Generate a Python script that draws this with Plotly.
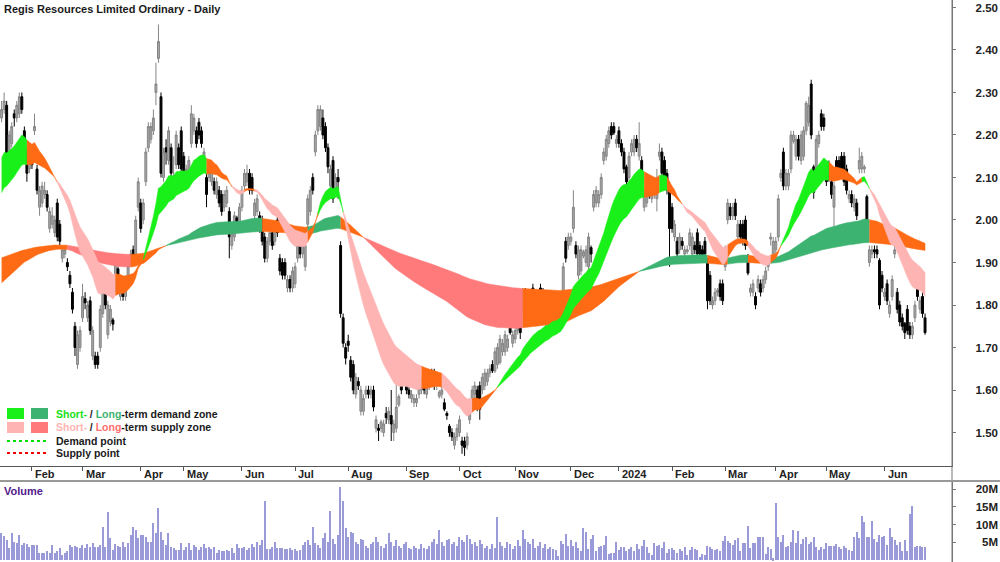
import pandas as pd
import plotly.graph_objects as go

W, H = 1000, 562
FONT = "Liberation Sans Narrow, Arial Narrow, Liberation Sans, Arial, sans-serif"

start_date = "2023-01-13"
asx_holidays = ["2023-01-26", "2023-04-07", "2023-04-10", "2023-04-25", "2023-06-12",
                "2023-12-25", "2023-12-26", "2024-01-01", "2024-01-26", "2024-03-29",
                "2024-04-01", "2024-04-25", "2024-06-10"]

opens = [
    2.24, 2.26, 2.27, 2.15, 2.18, 2.25, 2.24, 2.25, 2.29, 2.21,
    2.16, 2.12, 2.15, 2.21, 2.12, 2.03, 2.04, 2.06, 2.06, 1.98,
    1.99, 1.97, 2.04, 1.99, 1.91, 1.92, 1.90, 1.87, 1.83, 1.75,
    1.66, 1.70, 1.77, 1.815, 1.77, 1.81, 1.68, 1.68, 1.68, 1.70,
    1.78, 1.86, 1.73, 1.76, 1.765, 1.84, 1.885, 1.82, 1.84, 1.82,
    1.86, 1.90, 1.93, 1.92, 2.03, 2.04, 2.00, 2.09, 2.17, 2.19,
    2.21, 2.30, 2.38, 2.29, 2.10, 2.17, 2.14, 2.17, 2.09, 2.13,
    2.17, 2.21, 2.15, 2.08, 2.10, 2.18, 2.21, 2.21, 2.23, 2.21,
    2.13, 2.10, 2.10, 2.09, 2.09, 2.06, 2.07, 2.06, 2.03, 2.04,
    2.02, 1.94, 1.96, 2.005, 1.99, 2.03, 2.08, 2.09, 2.11, 2.10,
    2.01, 2.02, 2.01, 2.00, 1.96, 1.91, 1.95, 1.97, 1.95, 2.00,
    1.91, 1.90, 1.90, 1.84, 1.86, 1.84, 1.85, 1.91, 1.95, 1.92,
    1.89, 1.99, 2.02, 2.10, 2.16, 2.21, 2.22, 2.24, 2.22, 2.17,
    2.08, 2.14, 2.07, 2.10, 1.94, 1.77, 1.70, 1.715, 1.67, 1.66,
    1.59, 1.62, 1.55, 1.55, 1.59, 1.60, 1.59, 1.60, 1.51, 1.51,
    1.51, 1.50, 1.545, 1.53, 1.54, 1.50, 1.51, 1.565, 1.61, 1.64,
    1.63, 1.60, 1.58, 1.57, 1.57, 1.59, 1.60, 1.61, 1.59, 1.61,
    1.64, 1.64, 1.61, 1.585, 1.59, 1.57, 1.545, 1.515, 1.50, 1.47,
    1.49, 1.50, 1.48, 1.48, 1.47, 1.53, 1.56, 1.59, 1.60, 1.61,
    1.60, 1.61, 1.62, 1.64, 1.66, 1.645, 1.66, 1.665, 1.69, 1.69,
    1.70, 1.755, 1.71, 1.72, 1.74, 1.755, 1.79, 1.83, 1.82, 1.77,
    1.84, 1.76, 1.76, 1.84, 1.83, 1.76, 1.78, 1.77, 1.80, 1.80,
    1.78, 1.79, 1.805, 1.95, 1.94, 1.95, 1.98, 1.94, 1.87, 1.88,
    1.915, 1.90, 1.89, 1.935, 2.03, 2.04, 2.04, 2.06, 2.14, 2.15,
    2.18, 2.22, 2.22, 2.18, 2.21, 2.18, 2.16, 2.125, 2.10, 2.16,
    2.16, 2.19, 2.15, 2.14, 2.03, 2.04, 2.08, 2.05, 2.06, 2.05,
    2.15, 2.16, 2.14, 2.11, 2.08, 2.03, 1.96, 1.95, 1.93, 1.95,
    1.92, 1.925, 1.94, 1.92, 1.94, 1.97, 1.94, 1.93, 1.95, 1.90,
    1.87, 1.80, 1.81, 1.83, 1.85, 1.85, 1.89, 2.00, 2.03, 2.01,
    2.04, 1.96, 1.99, 1.99, 2.00, 1.91, 1.83, 1.83, 1.82, 1.84,
    1.85, 1.84, 1.86, 1.89, 1.955, 1.92, 1.93, 1.96, 2.10, 2.16,
    2.08, 2.08, 2.12, 2.185, 2.15, 2.19, 2.14, 2.15, 2.21, 2.23,
    2.32, 2.125, 2.12, 2.18, 2.25, 2.24, 2.12, 2.13, 2.09, 2.03,
    2.14, 2.14, 2.15, 2.15, 2.12, 2.05, 2.06, 2.03, 2.04, 2.12,
    2.12, 2.12, 2.055, 1.90, 1.92, 1.93, 1.93, 1.905, 1.87, 1.82,
    1.85, 1.78, 1.82, 1.92, 1.83, 1.80, 1.77, 1.757, 1.79, 1.75,
    1.73, 1.77, 1.845, 1.79, 1.82, 1.77,
]

highs = [
    2.28, 2.30, 2.28, 2.21, 2.23, 2.26, 2.28, 2.30, 2.30, 2.22,
    2.17, 2.16, 2.17, 2.25, 2.13, 2.08, 2.09, 2.09, 2.07, 2.03,
    2.03, 2.01, 2.05, 2.00, 1.94, 1.94, 1.91, 1.88, 1.84, 1.76,
    1.74, 1.75, 1.85, 1.83, 1.81, 1.82, 1.75, 1.69, 1.69, 1.80,
    1.86, 1.87, 1.81, 1.80, 1.77, 1.92, 1.89, 1.87, 1.85, 1.87,
    1.90, 1.93, 1.94, 2.01, 2.10, 2.05, 2.05, 2.17, 2.23, 2.23,
    2.26, 2.37, 2.46, 2.30, 2.17, 2.19, 2.22, 2.18, 2.15, 2.21,
    2.18, 2.22, 2.16, 2.13, 2.15, 2.27, 2.25, 2.22, 2.24, 2.22,
    2.17, 2.11, 2.14, 2.13, 2.10, 2.10, 2.08, 2.07, 2.07, 2.08,
    2.03, 1.98, 2.02, 2.01, 2.04, 2.08, 2.12, 2.13, 2.12, 2.11,
    2.05, 2.06, 2.02, 2.01, 1.97, 1.96, 1.98, 1.98, 1.99, 2.01,
    1.92, 1.91, 1.91, 1.87, 1.87, 1.89, 1.90, 1.96, 1.96, 1.95,
    1.95, 2.06, 2.08, 2.11, 2.21, 2.27, 2.27, 2.26, 2.23, 2.18,
    2.13, 2.15, 2.11, 2.12, 1.95, 1.78, 1.71, 1.73, 1.68, 1.67,
    1.64, 1.63, 1.61, 1.59, 1.61, 1.61, 1.61, 1.61, 1.54, 1.52,
    1.53, 1.53, 1.56, 1.56, 1.60, 1.53, 1.62, 1.59, 1.62, 1.65,
    1.64, 1.61, 1.60, 1.59, 1.59, 1.62, 1.63, 1.62, 1.62, 1.63,
    1.65, 1.65, 1.64, 1.60, 1.61, 1.58, 1.55, 1.52, 1.51, 1.50,
    1.52, 1.54, 1.49, 1.49, 1.50, 1.58, 1.61, 1.62, 1.61, 1.62,
    1.64, 1.65, 1.65, 1.66, 1.67, 1.70, 1.71, 1.73, 1.72, 1.74,
    1.73, 1.76, 1.74, 1.75, 1.77, 1.76, 1.84, 1.84, 1.83, 1.82,
    1.85, 1.79, 1.80, 1.85, 1.84, 1.81, 1.79, 1.81, 1.83, 1.81,
    1.81, 1.82, 1.90, 1.96, 1.97, 1.97, 2.07, 1.95, 1.94, 1.94,
    1.93, 1.94, 1.97, 1.94, 2.07, 2.08, 2.07, 2.11, 2.17, 2.20,
    2.22, 2.23, 2.23, 2.20, 2.22, 2.19, 2.17, 2.13, 2.16, 2.19,
    2.20, 2.20, 2.23, 2.15, 2.07, 2.09, 2.09, 2.09, 2.09, 2.12,
    2.18, 2.17, 2.15, 2.12, 2.09, 2.04, 2.00, 1.96, 1.97, 1.96,
    1.94, 1.94, 1.98, 1.97, 1.95, 1.98, 1.95, 1.94, 1.96, 1.91,
    1.88, 1.82, 1.84, 1.84, 1.86, 1.86, 1.94, 2.05, 2.04, 2.04,
    2.05, 2.00, 2.00, 2.00, 2.01, 1.92, 1.85, 1.86, 1.83, 1.87,
    1.86, 1.87, 1.89, 1.91, 1.97, 1.96, 1.96, 2.06, 2.12, 2.17,
    2.12, 2.12, 2.21, 2.21, 2.20, 2.20, 2.21, 2.22, 2.28, 2.29,
    2.33, 2.13, 2.20, 2.21, 2.26, 2.25, 2.13, 2.14, 2.10, 2.09,
    2.15, 2.15, 2.16, 2.16, 2.13, 2.07, 2.07, 2.06, 2.05, 2.17,
    2.16, 2.13, 2.06, 1.94, 1.94, 1.94, 1.94, 1.91, 1.88, 1.84,
    1.86, 1.81, 1.87, 1.94, 1.84, 1.81, 1.78, 1.76, 1.80, 1.76,
    1.76, 1.81, 1.85, 1.82, 1.83, 1.78,
]

lows = [
    2.23, 2.25, 2.13, 2.14, 2.17, 2.22, 2.23, 2.24, 2.25, 2.15,
    2.09, 2.11, 2.12, 2.20, 2.06, 2.01, 2.03, 2.05, 2.02, 1.97,
    1.98, 1.96, 1.95, 1.94, 1.90, 1.91, 1.88, 1.84, 1.78, 1.68,
    1.65, 1.69, 1.76, 1.79, 1.76, 1.73, 1.67, 1.65, 1.65, 1.69,
    1.77, 1.79, 1.72, 1.75, 1.74, 1.83, 1.83, 1.81, 1.81, 1.81,
    1.85, 1.89, 1.90, 1.91, 2.02, 1.97, 1.99, 2.08, 2.16, 2.18,
    2.20, 2.27, 2.37, 2.10, 2.09, 2.13, 2.13, 2.10, 2.08, 2.12,
    2.12, 2.11, 2.10, 2.07, 2.09, 2.17, 2.20, 2.17, 2.19, 2.17,
    2.12, 2.03, 2.09, 2.08, 2.06, 2.05, 2.03, 2.01, 2.02, 2.03,
    1.91, 1.93, 1.95, 1.98, 1.98, 2.02, 2.07, 2.08, 2.06, 2.06,
    2.00, 2.01, 1.97, 1.94, 1.90, 1.90, 1.94, 1.93, 1.94, 1.96,
    1.87, 1.86, 1.86, 1.83, 1.83, 1.83, 1.84, 1.90, 1.91, 1.91,
    1.88, 1.98, 2.01, 2.06, 2.15, 2.20, 2.21, 2.19, 2.16, 2.11,
    2.07, 2.04, 2.06, 2.05, 1.77, 1.70, 1.66, 1.69, 1.62, 1.59,
    1.58, 1.60, 1.54, 1.54, 1.58, 1.58, 1.58, 1.55, 1.50, 1.48,
    1.50, 1.49, 1.52, 1.52, 1.48, 1.48, 1.50, 1.56, 1.59, 1.61,
    1.59, 1.58, 1.57, 1.56, 1.56, 1.58, 1.59, 1.59, 1.58, 1.60,
    1.61, 1.60, 1.60, 1.58, 1.58, 1.55, 1.53, 1.49, 1.48, 1.46,
    1.48, 1.49, 1.45, 1.445, 1.46, 1.52, 1.55, 1.58, 1.55, 1.53,
    1.59, 1.60, 1.61, 1.63, 1.64, 1.64, 1.65, 1.66, 1.68, 1.68,
    1.69, 1.73, 1.70, 1.71, 1.73, 1.72, 1.78, 1.78, 1.77, 1.76,
    1.78, 1.75, 1.75, 1.76, 1.78, 1.75, 1.75, 1.76, 1.79, 1.76,
    1.77, 1.78, 1.80, 1.90, 1.93, 1.94, 1.97, 1.91, 1.86, 1.87,
    1.91, 1.89, 1.88, 1.90, 2.02, 2.03, 2.03, 2.05, 2.13, 2.14,
    2.17, 2.19, 2.20, 2.17, 2.17, 2.15, 2.11, 2.08, 2.09, 2.15,
    2.15, 2.16, 2.14, 2.10, 2.02, 2.03, 2.05, 2.04, 2.05, 2.02,
    2.14, 2.10, 2.09, 2.06, 1.89, 1.97, 1.95, 1.91, 1.92, 1.93,
    1.91, 1.92, 1.93, 1.91, 1.92, 1.91, 1.91, 1.90, 1.91, 1.79,
    1.80, 1.79, 1.80, 1.82, 1.81, 1.80, 1.88, 1.99, 2.00, 2.00,
    2.00, 1.95, 1.95, 1.94, 1.93, 1.87, 1.82, 1.82, 1.79, 1.83,
    1.82, 1.83, 1.85, 1.88, 1.94, 1.91, 1.92, 1.95, 2.09, 2.07,
    2.07, 2.07, 2.11, 2.18, 2.14, 2.14, 2.13, 2.14, 2.20, 2.22,
    2.19, 2.05, 2.11, 2.17, 2.21, 2.21, 2.08, 2.09, 2.05, 1.98,
    2.11, 2.10, 2.11, 2.08, 2.06, 2.04, 2.03, 2.02, 2.00, 2.11,
    2.11, 2.11, 1.95, 1.89, 1.91, 1.91, 1.91, 1.79, 1.83, 1.81,
    1.80, 1.77, 1.81, 1.91, 1.78, 1.75, 1.74, 1.72, 1.73, 1.72,
    1.72, 1.76, 1.81, 1.78, 1.77, 1.73,
]

closes = [
    2.26, 2.28, 2.15, 2.20, 2.22, 2.24, 2.27, 2.29, 2.26, 2.16,
    2.11, 2.14, 2.13, 2.22, 2.07, 2.07, 2.08, 2.07, 2.03, 2.02,
    2.01, 2.00, 1.96, 1.95, 1.93, 1.93, 1.89, 1.85, 1.79, 1.70,
    1.73, 1.74, 1.82, 1.805, 1.80, 1.74, 1.74, 1.66, 1.66, 1.79,
    1.85, 1.80, 1.80, 1.79, 1.755, 1.91, 1.84, 1.86, 1.82, 1.86,
    1.89, 1.92, 1.91, 2.00, 2.09, 1.98, 2.04, 2.16, 2.22, 2.22,
    2.24, 2.32, 2.42, 2.11, 2.16, 2.16, 2.21, 2.11, 2.10, 2.20,
    2.13, 2.12, 2.11, 2.12, 2.14, 2.25, 2.24, 2.18, 2.20, 2.18,
    2.16, 2.06, 2.13, 2.12, 2.07, 2.09, 2.04, 2.02, 2.06, 2.07,
    1.96, 1.97, 2.01, 1.99, 2.03, 2.07, 2.11, 2.11, 2.07, 2.07,
    2.04, 2.05, 1.98, 1.95, 1.91, 1.95, 1.97, 1.94, 1.98, 1.97,
    1.88, 1.87, 1.87, 1.86, 1.84, 1.88, 1.89, 1.95, 1.92, 1.94,
    1.94, 2.05, 2.07, 2.07, 2.20, 2.26, 2.26, 2.20, 2.17, 2.125,
    2.12, 2.05, 2.10, 2.09, 1.78, 1.71, 1.675, 1.705, 1.63, 1.60,
    1.63, 1.61, 1.60, 1.58, 1.60, 1.59, 1.60, 1.56, 1.53, 1.505,
    1.525, 1.52, 1.535, 1.55, 1.52, 1.52, 1.56, 1.585, 1.60, 1.62,
    1.60, 1.59, 1.59, 1.58, 1.58, 1.61, 1.62, 1.60, 1.61, 1.62,
    1.62, 1.61, 1.63, 1.595, 1.60, 1.555, 1.54, 1.50, 1.49, 1.49,
    1.51, 1.53, 1.47, 1.465, 1.49, 1.57, 1.60, 1.61, 1.56, 1.555,
    1.63, 1.64, 1.64, 1.65, 1.645, 1.69, 1.70, 1.72, 1.71, 1.73,
    1.72, 1.735, 1.73, 1.74, 1.76, 1.735, 1.83, 1.79, 1.78, 1.81,
    1.79, 1.78, 1.79, 1.77, 1.79, 1.80, 1.76, 1.80, 1.81, 1.77,
    1.80, 1.81, 1.89, 1.91, 1.96, 1.96, 2.03, 1.92, 1.93, 1.93,
    1.925, 1.93, 1.96, 1.92, 2.06, 2.07, 2.06, 2.10, 2.16, 2.19,
    2.21, 2.20, 2.205, 2.19, 2.18, 2.16, 2.12, 2.09, 2.15, 2.18,
    2.19, 2.17, 2.18, 2.11, 2.06, 2.08, 2.06, 2.08, 2.08, 2.09,
    2.16, 2.11, 2.10, 2.07, 1.98, 1.98, 1.99, 1.92, 1.96, 1.94,
    1.93, 1.93, 1.97, 1.96, 1.93, 1.92, 1.92, 1.91, 1.92, 1.81,
    1.81, 1.81, 1.83, 1.835, 1.82, 1.81, 1.93, 2.04, 2.01, 2.03,
    2.01, 1.99, 1.96, 1.95, 1.94, 1.875, 1.84, 1.85, 1.80, 1.86,
    1.83, 1.86, 1.88, 1.90, 1.96, 1.95, 1.95, 2.05, 2.11, 2.08,
    2.11, 2.11, 2.20, 2.20, 2.19, 2.15, 2.20, 2.21, 2.275, 2.27,
    2.20, 2.065, 2.19, 2.20, 2.22, 2.22, 2.09, 2.10, 2.06, 2.08,
    2.12, 2.11, 2.12, 2.09, 2.07, 2.06, 2.04, 2.05, 2.01, 2.14,
    2.15, 2.125, 1.96, 1.93, 1.93, 1.925, 1.92, 1.80, 1.84, 1.83,
    1.81, 1.80, 1.86, 1.93, 1.79, 1.76, 1.75, 1.735, 1.74, 1.73,
    1.75, 1.80, 1.82, 1.81, 1.78, 1.735,
]

volumes_m = [
    7.7, 6.8, 5.6, 3.3, 7.5, 5.2, 4.9, 7.0, 4.2, 4.7,
    4.5, 3.8, 4.2, 4.2, 4.1, 1.9, 1.9, 2.1, 2.5, 1.9,
    4.2, 1.9, 2.4, 3.3, 1.4, 1.9, 2.4, 4.2, 3.8, 4.0,
    3.8, 3.3, 4.2, 3.3, 4.5, 3.8, 4.9, 3.6, 3.8, 4.2,
    9.4, 3.8, 13.6, 6.1, 2.8, 4.5, 4.0, 3.8, 5.2, 3.8,
    4.7, 7.0, 9.4, 8.5, 6.1, 7.0, 7.0, 6.6, 5.2, 5.2,
    10.3, 7.5, 14.6, 8.0, 5.6, 4.2, 7.5, 3.8, 3.3, 2.8,
    2.8, 4.7, 2.8, 3.8, 4.7, 2.8, 4.2, 3.8, 2.8, 3.8,
    4.5, 3.3, 3.8, 3.0, 3.8, 1.9, 2.8, 2.4, 2.5, 2.8,
    2.4, 3.3, 1.9, 4.5, 3.3, 3.3, 3.8, 2.8, 3.3, 4.5,
    3.8, 5.2, 4.2, 5.6, 16.6, 3.0, 3.0, 3.8, 5.2, 3.3,
    3.3, 3.3, 3.0, 3.0, 3.3, 2.8, 3.0, 2.4, 2.8, 4.2,
    5.2, 5.6, 4.2, 9.4, 4.7, 4.2, 3.3, 6.1, 7.5, 5.0,
    13.8, 6.0, 4.5, 7.0, 20.5, 16.5, 9.0, 6.5, 8.0, 7.5,
    5.0, 4.5, 6.0, 5.5, 4.0, 3.5, 4.5, 5.0, 6.5, 5.0,
    4.0, 3.5, 4.5, 7.5, 5.0, 4.0, 5.5, 4.0, 3.5, 4.5,
    5.0, 3.5, 3.0, 4.0, 3.5, 3.0, 4.5, 3.5, 3.0, 4.0,
    5.0, 6.0, 4.5, 8.5, 5.0, 4.0, 5.5, 6.0, 4.5, 5.0,
    4.0, 6.5, 5.5, 5.0, 7.0, 6.0, 4.5, 5.0, 4.0, 5.5,
    4.5, 3.5, 4.0, 3.0, 4.5, 3.5, 12.0, 5.0, 4.0, 3.5,
    5.0, 4.5, 3.0, 4.0, 5.5, 4.0, 8.5, 6.0, 5.0, 4.5,
    6.0, 3.5, 4.0, 5.0, 3.5, 4.5, 3.0, 3.6, 3.0, 2.8,
    1.1, 5.4, 4.5, 7.3, 3.9, 5.6, 3.9, 5.2, 3.5, 2.4,
    8.9, 8.0, 3.0, 5.8, 7.0, 2.5, 3.6, 3.9, 4.2, 6.8,
    1.7, 1.9, 2.1, 5.1, 2.8, 3.6, 3.6, 2.5, 3.0, 3.6,
    2.5, 4.5, 3.0, 3.9, 5.6, 3.6, 2.1, 1.4, 4.7, 3.9,
    4.1, 3.3, 5.2, 2.1, 3.0, 3.3, 2.8, 2.1, 3.0, 2.5,
    3.6, 1.4, 2.8, 3.6, 3.0, 2.8, 0.9, 1.7, 1.4, 3.9,
    3.6, 3.0, 2.8, 3.0, 2.4, 5.4, 6.8, 5.4, 4.7, 4.2,
    5.6, 6.1, 2.4, 4.9, 4.9, 9.6, 3.3, 4.9, 4.7, 6.4,
    6.4, 6.4, 1.7, 3.6, 3.0, 0.5, 16.0, 6.4, 5.2, 7.0,
    3.6, 3.9, 5.2, 8.5, 4.9, 8.3, 4.5, 5.8, 6.4, 4.5,
    5.2, 6.4, 3.6, 2.8, 3.6, 3.0, 4.7, 3.9, 3.9, 3.9,
    4.5, 3.6, 3.0, 3.9, 3.3, 2.8, 2.4, 6.4, 8.0, 6.1,
    12.4, 10.8, 6.4, 6.4, 11.1, 5.8, 5.2, 7.0, 6.4, 6.8,
    4.2, 8.9, 6.4, 5.6, 4.2, 5.2, 2.6, 5.6, 2.6, 12.9,
    15.2, 3.8, 3.9, 3.9, 3.8, 3.7,
]

price_ticks = [1.50, 1.60, 1.70, 1.80, 1.90, 2.00, 2.10, 2.20, 2.30, 2.40, 2.50]
volume_ticks = [5, 10, 15, 20]

short_ema_periods = (20, 35)
short_ema_start = (2.146, 2.064)
long_ema_periods = (130, 300)
long_ema_start = (1.852, 1.911)
price_smoothing = 3

n = min(len(opens), len(highs), len(lows), len(closes), len(volumes_m))
opens, highs, lows, closes, volumes_m = (a[:n] for a in (opens, highs, lows, closes, volumes_m))
idx = list(range(n))
dates = pd.bdate_range(start=start_date, periods=n, freq="C", holidays=asx_holidays)

month_ticks, month_text = [], []
for i in range(1, n):
    if dates[i].month != dates[i - 1].month:
        month_ticks.append(i)
        month_text.append(str(dates[i].year) if dates[i].month == 1 else dates[i].strftime("%b"))


def ema(values, period, init):
    a = 2.0 / (period + 1)
    out, e = [init], init
    for v in values[1:]:
        e = e + a * (v - e)
        out.append(e)
    return out


smoothed_price = ema(closes, price_smoothing, closes[0])


def band_traces(fast, slow, colors):
    m = len(fast)
    states = []
    for i in range(m):
        up = fast[i] > slow[i]
        bull = smoothed_price[i] >= fast[i]
        if up and bull:
            states.append("d")
        elif (not up) and (not bull):
            states.append("s")
        else:
            states.append("o")
    # drop isolated single-bar state flips
    for i in range(1, m - 1):
        if states[i] != states[i - 1] and states[i] != states[i + 1]:
            states[i] = states[i - 1]
    traces = []
    i = 0
    while i < m:
        j = i
        while j + 1 < m and states[j + 1] == states[i]:
            j += 1
        end = min(j + 1, m - 1)
        xs = list(range(i, end + 1))
        ys = [fast[k] for k in xs] + [slow[k] for k in reversed(xs)]
        col = colors[states[i]]
        traces.append(go.Scatter(x=xs + xs[::-1], y=ys, fill="toself", fillcolor=col,
                                 line=dict(color=col, width=0.5), mode="lines",
                                 hoverinfo="skip", showlegend=False))
        i = j + 1
    return traces


short_fast = ema(closes, short_ema_periods[0], short_ema_start[0])
short_slow = ema(closes, short_ema_periods[1], short_ema_start[1])
long_fast = ema(closes, long_ema_periods[0], long_ema_start[0])
long_slow = ema(closes, long_ema_periods[1], long_ema_start[1])

ORANGE = "#ff6a14"
short_colors = {"d": "#19f019", "s": "#ffb4b4", "o": ORANGE}
long_colors = {"d": "#3cb371", "s": "#ff7a7a", "o": ORANGE}

fig = go.Figure()
for t in band_traces(long_fast, long_slow, long_colors):
    fig.add_trace(t)
for t in band_traces(short_fast, short_slow, short_colors):
    fig.add_trace(t)

fig.add_trace(go.Candlestick(
    x=idx, open=opens, high=highs, low=lows, close=closes,
    increasing=dict(line=dict(color="#858585", width=1), fillcolor="#a6a6a6"),
    decreasing=dict(line=dict(color="#000000", width=1), fillcolor="#000000"),
    whiskerwidth=0, showlegend=False, hoverinfo="skip"))

fig.add_trace(go.Bar(x=idx, y=volumes_m, marker=dict(color="#9a9ad8", line=dict(width=0)),
                     width=0.5, xaxis="x2", yaxis="y2", showlegend=False, hoverinfo="skip"))
fig.add_trace(go.Scatter(x=[None], y=[None], xaxis="x", yaxis="y3", showlegend=False))
fig.add_trace(go.Scatter(x=[None], y=[None], xaxis="x2", yaxis="y4", showlegend=False))

PX_PER_BAR, X0_PX, PLOT_W = 2.53, 1.6, 952
x_range = [(0 - X0_PX) / PX_PER_BAR, (PLOT_W - X0_PX) / PX_PER_BAR]
price_range = [1.4212, 2.5176]
vol_range = [-0.56, 21.97]


def px(xp):
    return xp / W


def py(yp):
    return 1 - yp / H


tickfont = dict(family=FONT, size=11.5, color="#222222", weight="bold")

fig.update_layout(
    width=W, height=H, autosize=False,
    margin=dict(l=0, r=0, t=0, b=0),
    paper_bgcolor="white", plot_bgcolor="white",
    showlegend=False, boxgap=0.25, boxgroupgap=0,
    xaxis=dict(domain=[0, px(PLOT_W)], range=x_range, anchor="y", showgrid=False, zeroline=False,
               showline=True, linecolor="#555555", linewidth=1, ticks="outside", ticklen=4,
               tickcolor="#555555", tickvals=month_ticks, showticklabels=False,
               rangeslider=dict(visible=False), fixedrange=True),
    yaxis=dict(domain=[py(466), 1], range=price_range, anchor="x", side="right", showgrid=False,
               zeroline=False, showline=True, linecolor="#777777", ticks="outside", ticklen=3,
               tickcolor="#777777", tickvals=price_ticks, showticklabels=False),
    yaxis3=dict(overlaying="y", anchor="free", position=1.0, side="left", range=price_range,
                tickvals=price_ticks, ticktext=[f"{v:.2f}" for v in price_ticks],
                showline=False, ticks="", showgrid=False, zeroline=False, tickfont=tickfont,
                ticklabelstandoff=2),
    xaxis2=dict(domain=[0, px(PLOT_W)], range=x_range, anchor="y2", showgrid=False, zeroline=False,
                showline=False, ticks="", showticklabels=False, matches="x"),
    yaxis2=dict(domain=[0, 1 - 482 / H], range=vol_range, anchor="x2", side="right", showgrid=False,
                zeroline=False, showline=True, linecolor="#777777", ticks="outside", ticklen=3,
                tickcolor="#777777", tickvals=volume_ticks, showticklabels=False),
    yaxis4=dict(overlaying="y2", anchor="free", position=1.0, side="left", range=vol_range,
                tickvals=volume_ticks, ticktext=[f"{v}M" for v in volume_ticks],
                showline=False, ticks="", showgrid=False, zeroline=False, tickfont=tickfont,
                ticklabelstandoff=2),
    bargap=0,
)

shapes = [
    dict(type="line", xref="paper", yref="paper", x0=px(PLOT_W), x1=px(PLOT_W), y0=0, y1=1,
         line=dict(color="#777777", width=1)),
    dict(type="line", xref="paper", yref="paper", x0=0, x1=1, y0=py(481), y1=py(481),
         line=dict(color="#999999", width=2)),
    dict(type="rect", xref="paper", yref="paper", x0=px(7), x1=px(24), y0=py(419), y1=py(408),
         fillcolor="#19f019", line=dict(width=0)),
    dict(type="rect", xref="paper", yref="paper", x0=px(31), x1=px(48), y0=py(419), y1=py(408),
         fillcolor="#3cb371", line=dict(width=0)),
    dict(type="rect", xref="paper", yref="paper", x0=px(7), x1=px(24), y0=py(433), y1=py(422),
         fillcolor="#ffb4b4", line=dict(width=0)),
    dict(type="rect", xref="paper", yref="paper", x0=px(31), x1=px(48), y0=py(433), y1=py(422),
         fillcolor="#ff7a7a", line=dict(width=0)),
    dict(type="line", xref="paper", yref="paper", x0=px(7), x1=px(48), y0=py(441), y1=py(441),
         line=dict(color="#00dd00", width=2, dash="dot")),
    dict(type="line", xref="paper", yref="paper", x0=px(7), x1=px(48), y0=py(453), y1=py(453),
         line=dict(color="#ee0000", width=2, dash="dot")),
]
fig.update_layout(shapes=shapes)

LEG = 10.5
annots = [
    dict(text="<b>Regis Resources Limited Ordinary - Daily</b>", xref="paper", yref="paper",
         x=px(2), y=py(9), xanchor="left", yanchor="middle", showarrow=False,
         font=dict(family=FONT, size=11, color="#1a1a1a")),
    dict(text="<b>Volume</b>", xref="paper", yref="paper", x=px(2), y=py(491), xanchor="left",
         yanchor="middle", showarrow=False, font=dict(family=FONT, size=11, color="#551a8b")),
    dict(text="<b><span style='color:#19e019'>Short-</span> / <span style='color:#3cb371'>Long</span>-term demand zone</b>",
         xref="paper", yref="paper", x=px(54), y=py(414), xanchor="left", yanchor="middle",
         showarrow=False, font=dict(family=FONT, size=LEG, color="#1a1a1a")),
    dict(text="<b><span style='color:#ffb4b4'>Short-</span> / <span style='color:#ff6f6f'>Long</span>-term supply zone</b>",
         xref="paper", yref="paper", x=px(54), y=py(427), xanchor="left", yanchor="middle",
         showarrow=False, font=dict(family=FONT, size=LEG, color="#1a1a1a")),
    dict(text="<b>Demand point</b>", xref="paper", yref="paper", x=px(54), y=py(441),
         xanchor="left", yanchor="middle", showarrow=False,
         font=dict(family=FONT, size=LEG, color="#1a1a1a")),
    dict(text="<b>Supply point</b>", xref="paper", yref="paper", x=px(54), y=py(453),
         xanchor="left", yanchor="middle", showarrow=False,
         font=dict(family=FONT, size=LEG, color="#1a1a1a")),
]
for t, lab in zip(month_ticks, month_text):
    annots.append(dict(text=f"<b>{lab}</b>", xref="x", yref="paper", x=t, xshift=1, y=py(474),
                       xanchor="left", yanchor="middle", showarrow=False,
                       font=dict(family=FONT, size=11, color="#222222")))
fig.update_layout(annotations=annots)

fig.write_html("out.html")
